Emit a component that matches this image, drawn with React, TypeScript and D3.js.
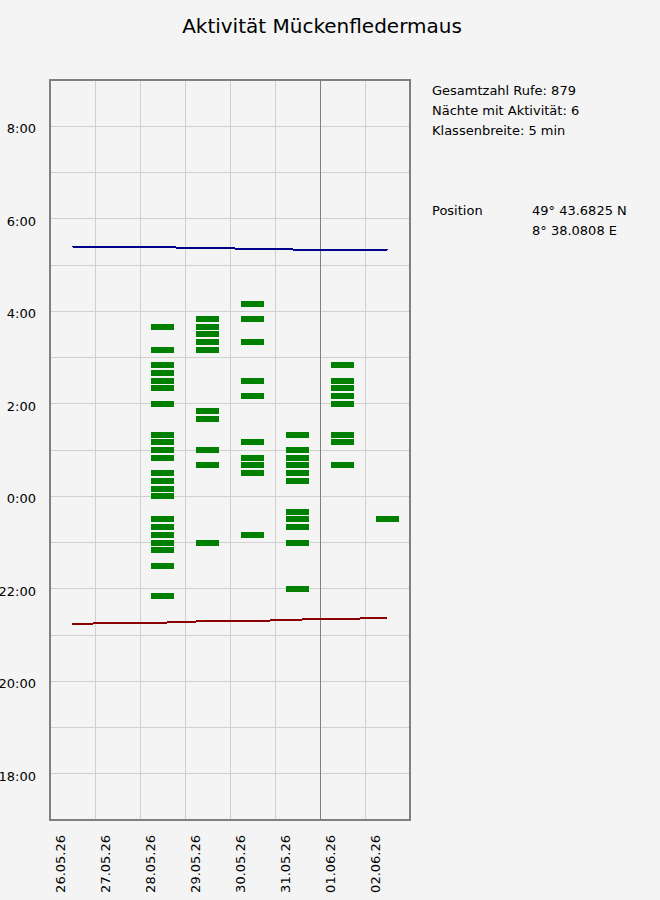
import { scaleBand, scaleLinear, line, range } from "d3";

// nights shown on the x axis
const nights = ["26.05.26", "27.05.26", "28.05.26", "29.05.26", "30.05.26", "31.05.26", "01.06.26", "02.06.26"];

const sunrise = ["5:24", "5:23", "5:23", "5:22", "5:21", "5:20", "5:20", "5:19"];
const sunset = ["21:14", "21:16", "21:16", "21:18", "21:18", "21:20", "21:21", "21:22"];

// 5-min classes with calls, per night
const calls2805 = ["3:40", "3:10", "2:50", "2:40", "2:30", "2:20", "2:00", "1:20", "1:10", "1:00", "0:50", "0:30", "0:20", "0:10", "0:00", "23:30", "23:20", "23:10", "23:00", "22:50", "22:30", "21:50"];
const calls2905 = ["3:50", "3:40", "3:30", "3:20", "3:10", "1:50", "1:40", "1:00", "0:40", "23:00"];
const calls3005 = ["4:10", "3:50", "3:20", "2:30", "2:10", "1:10", "0:50", "0:40", "0:30", "23:10"];
const calls3105 = ["1:20", "1:00", "0:50", "0:40", "0:30", "0:20", "23:40", "23:30", "23:20", "23:00", "22:00"];
const calls0106 = ["2:50", "2:30", "2:20", "2:10", "2:00", "1:20", "1:10", "0:40"];
const calls0206 = ["23:30"];

const callNights = [
  { night: "28.05.26", times: calls2805 },
  { night: "29.05.26", times: calls2905 },
  { night: "30.05.26", times: calls3005 },
  { night: "31.05.26", times: calls3105 },
  { night: "01.06.26", times: calls0106 },
  { night: "02.06.26", times: calls0206 },
];

const yTickLabels = ["18:00", "20:00", "22:00", "0:00", "2:00", "4:00", "6:00", "8:00"];

const infoLines = ["Gesamtzahl Rufe: 879", "Nächte mit Aktivität: 6", "Klassenbreite: 5 min"];

const width = 660;
const height = 900;
const plot = { left: 50, right: 410, top: 80, bottom: 820 };
const font = "'DejaVu Sans', sans-serif";
const BAR_H = 6;

// hours on a 12:00 .. 36:00 clock so the night is continuous
const toHours = (s: string) => {
  const [h, m] = s.split(":").map(Number);
  const v = h + m / 60;
  return v < 12 ? v + 24 : v;
};

export default function App() {
  const x = scaleBand<string>().domain(nights).range([plot.left, plot.right]);
  const y = scaleLinear().domain([17, 33]).range([plot.bottom, plot.top]);
  const bw = x.bandwidth();

  const sunLine = line<string>()
    .x((_, i) => (x(nights[i]) ?? 0) + bw / 2)
    .y((d) => y(toHours(d)));

  return (
    <svg
      width={width}
      height={height}
      shapeRendering="crispEdges"
      style={{ position: "absolute", left: 0, top: 0, background: "#f4f4f4", fontFamily: font }}
    >
      <rect width={width} height={height} fill="#f4f4f4" />
      <text x={322} y={33} textAnchor="middle" fontSize={20} fill="#000">
        Aktivität Mückenfledermaus
      </text>

      {/* horizontal grid, every hour */}
      {range(18, 33).map((h) => (
        <line key={h} x1={plot.left} x2={plot.right} y1={y(h)} y2={y(h)} stroke="#cfcfcf" strokeWidth={1} />
      ))}
      {/* vertical grid at day boundaries */}
      {nights.slice(1).map((n) => (
        <line
          key={n}
          x1={x(n)}
          x2={x(n)}
          y1={plot.top}
          y2={plot.bottom}
          stroke={n.startsWith("01.") ? "#808080" : "#cfcfcf"}
          strokeWidth={1}
        />
      ))}

      {/* y labels */}
      {yTickLabels.map((t) => (
        <text key={t} x={36} y={y(toHours(t)) + 7} textAnchor="end" fontSize={13} fill="#000">
          {t}
        </text>
      ))}

      {/* x labels */}
      {nights.map((n) => (
        <text
          key={n}
          transform={`translate(${(x(n) ?? 0) + 14.5}, 835) rotate(-90)`}
          textAnchor="end"
          fontSize={13}
          fill="#000"
        >
          {n}
        </text>
      ))}

      {/* call bars */}
      {callNights.map((cn) =>
        cn.times.map((t, i) => (
          <rect
            key={cn.night + i}
            x={(x(cn.night) ?? 0) + bw / 4}
            y={y(toHours(t)) - BAR_H / 2}
            width={bw / 2}
            height={BAR_H}
            fill="#008000"
          />
        ))
      )}

      {/* sunrise / sunset */}
      <path d={sunLine(sunrise) ?? ""} fill="none" stroke="#00008b" strokeWidth={2} />
      <path d={sunLine(sunset) ?? ""} fill="none" stroke="#8b0000" strokeWidth={2} />

      {/* frame */}
      <rect
        x={plot.left}
        y={plot.top}
        width={plot.right - plot.left}
        height={plot.bottom - plot.top}
        fill="none"
        stroke="#808080"
        strokeWidth={2}
      />

      {/* info block */}
      {infoLines.map((s, i) => (
        <text key={s} x={432} y={95 + i * 20} fontSize={13} fill="#000">
          {s}
        </text>
      ))}
      <text x={432} y={215} fontSize={13} fill="#000">
        Position
      </text>
      <text x={532} y={215} fontSize={13} fill="#000">
        49° 43.6825 N
      </text>
      <text x={532} y={235} fontSize={13} fill="#000">
        8° 38.0808 E
      </text>
    </svg>
  );
}
